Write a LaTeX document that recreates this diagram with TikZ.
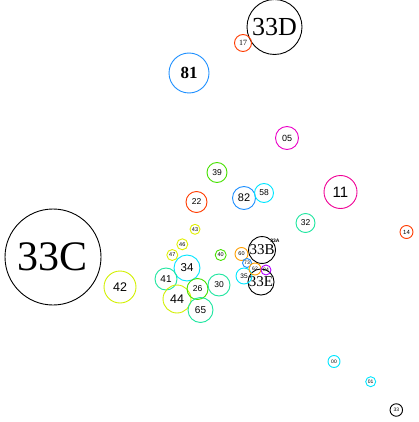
\documentclass[tikz,border=0pt]{standalone}
\usepackage{fontspec}
\setmainfont{Liberation Serif}
\newfontfamily\sansf{Liberation Sans}
\definecolor{cblk}{RGB}{0,0,0}
\definecolor{cyg}{RGB}{210,240,0}
\definecolor{cyel}{RGB}{225,240,0}
\definecolor{caqua}{RGB}{30,230,160}
\definecolor{ccyan}{RGB}{0,230,255}
\definecolor{cgrn}{RGB}{70,225,0}
\definecolor{cblue}{RGB}{30,144,255}
\definecolor{cred}{RGB}{255,60,0}
\definecolor{corg}{RGB}{255,160,0}
\definecolor{cpink}{RGB}{240,0,150}
\definecolor{cmag}{RGB}{235,0,200}
\definecolor{cpur}{RGB}{180,0,255}
\tikzset{
  bub/.style={circle, draw=#1, line width=0.9pt, inner sep=0pt, text=black},
  sl/.style={font=\sansf\fontsize{#1}{#1}\selectfont},
  rl/.style={font=\fontsize{#1}{#1}\selectfont},
}
\begin{document}
\begin{tikzpicture}[x=1pt,y=-1pt]
\useasboundingbox (0,0) rectangle (418,422);
\fill[white] (0,0) rectangle (418,422);
% big ones
\node[bub=cblk, minimum size=96pt, rl=42] (n33C) at (53,257) {33C};
\node[bub=cblk, minimum size=55pt, rl=26] (n33D) at (274.5,27) {33D};
\node[bub=cred, minimum size=17pt, rl=8] (n17) at (243,43) {17};
\node[bub=cblue, minimum size=40pt, font=\bfseries\fontsize{17}{17}\selectfont] (n81) at (189,73) {81};
\node[bub=cmag, minimum size=23pt, sl=9] (n05) at (287,138) {05};
\node[bub=cpink, minimum size=33pt, sl=15] (n11) at (340.5,192) {11};
\node[bub=cgrn, minimum size=20pt, sl=8.5] (n39) at (217,172.5) {39};
\node[bub=cred, minimum size=21pt, sl=8.5] (n22) at (196.5,202) {22};
\node[bub=cblue, minimum size=23pt, sl=11] (n82) at (244,198) {82};
\node[bub=ccyan, minimum size=19pt, sl=8.5] (n58) at (264,193) {58};
\node[bub=caqua, minimum size=19pt, sl=8.5] (n32) at (305.5,223) {32};
\node[bub=cred, minimum size=13pt, sl=6] (n14) at (406.5,232) {14};
\node[bub=cyg, minimum size=32pt, sl=12.5] (n42) at (120,287) {42};
% cluster
\node[bub=cyel, minimum size=10pt, sl=5.5] (n43) at (195,229.3) {43};
\node[bub=cyel, minimum size=11pt, sl=5.5] (n46) at (182.3,244.3) {46};
\node[bub=cyel, minimum size=11pt, sl=5.5] (n47) at (172.3,255) {47};
\node[bub=cgrn, minimum size=11pt, sl=5.5] (n40) at (220.7,255) {40};
\node[bub=ccyan, minimum size=26pt, sl=11.5] (n34) at (187,268) {34};
\node[bub=caqua, minimum size=22pt, sl=10] (n41) at (166,279) {41};
\node[bub=cyg, minimum size=28pt, sl=12.5] (n44) at (177,299) {44};
\node[bub=cgrn, minimum size=21pt, sl=8.5] (n26) at (197.5,289) {26};
\node[bub=caqua, minimum size=22pt, sl=8.5] (n30) at (219,285) {30};
\node[bub=caqua, minimum size=25pt, sl=10] (n65) at (200.5,310) {65};
% 33 group
\node[bub=cblk, minimum size=26pt, rl=15] (n33B) at (262,250) {33B};
\node[font=\sansf\bfseries\fontsize{5}{5}\selectfont, inner sep=0pt] (n33A) at (275,240.5) {33A};
\node[bub=cblk, minimum size=25pt, rl=15] (n33E) at (261,282) {33E};
\node[bub=corg, minimum size=13pt, sl=5.5] (n60) at (241.5,254) {60};
\node[bub=ccyan, minimum size=16pt, sl=6.5] (n35) at (244,276) {35};
\node[bub=cblue, minimum size=9pt, sl=5] (n73) at (247,263) {73};
\node[bub=corg, minimum size=12pt, sl=5] (n62) at (255,269) {62};
\node[bub=cpur, minimum size=10pt, sl=5] (n84) at (266,270) {84};
% bottom right
\node[bub=ccyan, minimum size=12pt, sl=5] (n00) at (334,361.5) {00};
\node[bub=ccyan, minimum size=10pt, sl=5] (n01) at (370.7,381.7) {01};
\node[bub=cblk, minimum size=12.5pt, sl=5] (n33) at (396.3,410) {33};
\end{tikzpicture}
\end{document}
